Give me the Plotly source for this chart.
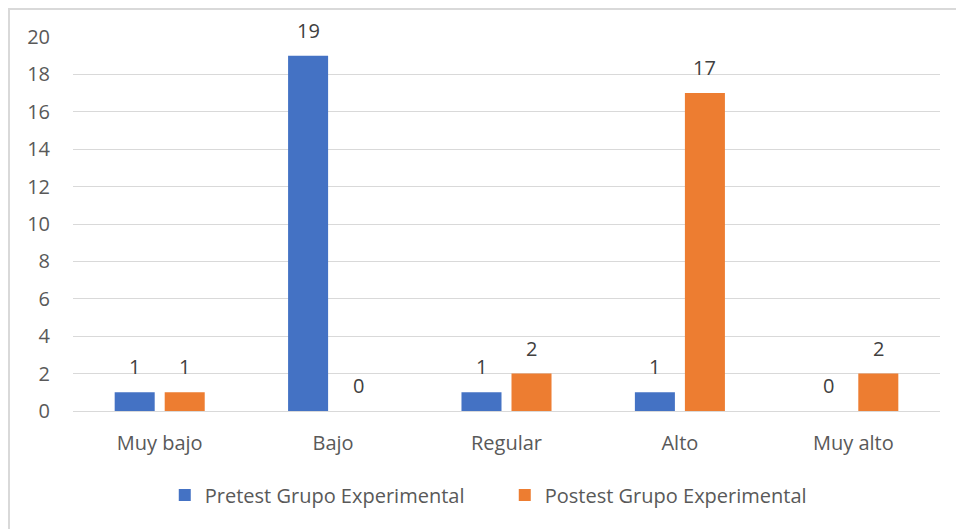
import plotly.graph_objects as go

categorias = ["Muy bajo", "Bajo", "Regular", "Alto", "Muy alto"]
pretest = [1, 19, 1, 1, 0]
postest = [1, 0, 2, 17, 2]
y_ticks = [0, 2, 4, 6, 8, 10, 12, 14, 16, 18, 20]

fuente = "'Open Sans', sans-serif"

fig = go.Figure()
fig.add_trace(go.Bar(x=categorias, y=pretest, name="Pretest Grupo Experimental",
                     marker=dict(color="#4472c4", line=dict(width=0))))
fig.add_trace(go.Bar(x=categorias, y=postest, name="Postest Grupo Experimental",
                     marker=dict(color="#ed7d31", line=dict(width=0))))

# etiquetas de datos encima de cada barra (desplazadas a su barra dentro del grupo)
etiquetas = []
for serie, dx in ((pretest, -25), (postest, 25)):
    for cat, val in zip(categorias, serie):
        etiquetas.append(dict(x=cat, y=val, text=str(val), showarrow=False,
                              xshift=dx, yshift=10, yanchor="bottom",
                              font=dict(size=20, color="#404040")))

# el body de la página tiene 8 px de margen: la figura empieza en (8, 8)
W, H = 964, 529
L, T = 65, 29
pw, ph = 867, 374
R, B = W - L - pw, H - T - ph

fig.update_layout(
    width=W, height=H,
    margin=dict(l=L, r=R, t=T, b=B),
    barmode="group", bargap=0.423, bargroupgap=0.2,
    paper_bgcolor="white", plot_bgcolor="white",
    font=dict(family=fuente, color="#595959", size=20),
    legend=dict(orientation="h", x=0.498, xanchor="center", y=-0.2246, yanchor="middle",
                font=dict(size=20, color="#595959"), itemwidth=30, traceorder="normal",
                entrywidth=295, entrywidthmode="pixels"),
    showlegend=True,
    annotations=etiquetas,
    # marco del gráfico: solo se ven los bordes superior e izquierdo
    shapes=[dict(type="rect", xref="paper", yref="paper",
                 x0=(1 - L) / pw, x1=(W + 20 - L) / pw,
                 y0=-(H + 20 - T - ph) / ph, y1=1 + (T - 1) / ph,
                 line=dict(color="#d9d9d9", width=2), fillcolor="rgba(0,0,0,0)", layer="below")],
)
fig.update_xaxes(showgrid=False, showline=False, ticks="", ticklabelstandoff=18)
fig.update_yaxes(range=[0, 20], tickvals=y_ticks, showgrid=True, gridcolor="#d9d9d9", gridwidth=1,
                 zeroline=True, zerolinecolor="#d9d9d9", zerolinewidth=1, ticks="",
                 ticklabelstandoff=22)

fig.write_html("out.html")
